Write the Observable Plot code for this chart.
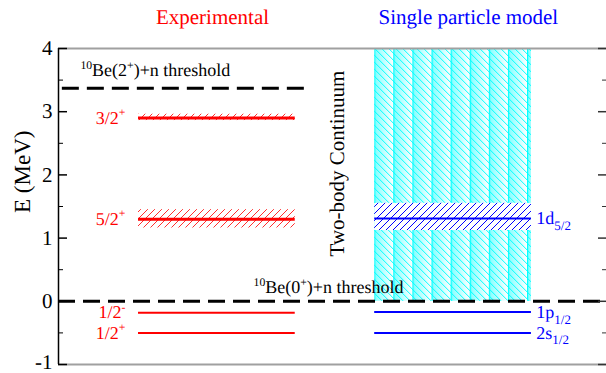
<!DOCTYPE html>
<html><head><meta charset="utf-8">
<script src="https://cdn.jsdelivr.net/npm/d3@7"></script>
<script src="https://cdn.jsdelivr.net/npm/@observablehq/plot@0.6"></script>
<style>
html,body{margin:0;padding:0;background:#fff}
svg{display:block; text-rendering: geometricPrecision;}
</style>
</head><body><div id="chart"></div>
<script>
// ---- data (MeV) ----
const expLabels   = ["3/2^{+}", "5/2^{+}", "1/2^{-}", "1/2^{+}"];
const expEnergies = [2.90, 1.30, -0.18, -0.50];
const expBandLo   = [2.86, 1.16];   // widths of the 3/2+ and 5/2+ resonances
const expBandHi   = [2.96, 1.45];

const spLabels    = ["1d_{5/2}", "1p_{1/2}", "2s_{1/2}"];
const spEnergies  = [1.31, -0.17, -0.50];
const spBandLo    = [1.12];
const spBandHi    = [1.55];

const continuumLo = [0];
const continuumHi = [4];

const thresholdLabels   = ["^{10}Be(2^{+})+n threshold", "^{10}Be(0^{+})+n threshold"];
const thresholdEnergies = [3.37, 0];

const yTicks      = [-1, 0, 1, 2, 3, 4];
const yMinorTicks = [-0.5, 0.5, 1.5, 2.5, 3.5];

const columnTitles = ["Experimental", "Single particle model"];

// ---- layout (x in abstract units 0..10) ----
const xExp = [1.46, 4.32];
const xSp  = [5.77, 8.63];
const RED = "#ff0000", BLUE = "#0000ff", CYAN = "#00ffff";
const FONT = "Liberation Serif";

const chart = Plot.plot({
  width: 606, height: 373,
  marginLeft: 58, marginRight: 0, marginTop: 48, marginBottom: 9,
  style: {background: "#fff", color: "#000", overflow: "visible"},
  x: {domain: [0, 10], axis: null},
  y: {domain: [-1, 4], axis: null},
  marks: [
    // two-body continuum
    Plot.rect(continuumLo, {x1: xSp[0], x2: xSp[1], y1: d => d, y2: (d, i) => continuumHi[i], fill: "url(#cyanStripes)"}),
    Plot.rect(continuumLo, {x1: xSp[0], x2: xSp[1], y1: d => d, y2: (d, i) => continuumHi[i], fill: "url(#cyanDiag)"}),
    // resonance widths
    Plot.rect(spBandLo, {x1: xSp[0], x2: xSp[1], y1: d => d, y2: (d, i) => spBandHi[i], fill: "#fff"}),
    Plot.rect(spBandLo, {x1: xSp[0], x2: xSp[1], y1: d => d, y2: (d, i) => spBandHi[i], fill: "url(#blueHatch)"}),
    Plot.rect(expBandLo, {x1: xExp[0], x2: xExp[1], y1: d => d, y2: (d, i) => expBandHi[i], fill: "url(#redHatch)"}),
    // levels
    Plot.ruleY(expEnergies, {x1: xExp[0], x2: xExp[1], stroke: RED, strokeWidth: (d, i) => i < expBandLo.length ? 3 : 2}),
    Plot.ruleY(spEnergies, {x1: xSp[0], x2: xSp[1], stroke: BLUE, strokeWidth: 2}),
    // thresholds
    Plot.ruleY([thresholdEnergies[0]], {x1: 0.07, x2: 4.62, stroke: "#000", strokeWidth: 3, strokeDasharray: "17,8"}),
    Plot.ruleY([thresholdEnergies[1]], {x1: 0, x2: 10, stroke: "#000", strokeWidth: 3, strokeDasharray: "17,8"}),
    // frame
    Plot.ruleY([4, -1], {x1: 0, x2: 10, stroke: "#a0a0a0", strokeWidth: 2}),
    Plot.ruleX([0], {y1: -1, y2: 4, stroke: "#000", strokeWidth: 1.5}),
    Plot.axisY({anchor: "left", ticks: yTicks, tickSize: -9, strokeWidth: 1.5, fill: "none", label: null}),
    Plot.axisY({anchor: "left", ticks: yMinorTicks, tickSize: -5, strokeWidth: 1, fill: "none", label: null}),
    Plot.axisY({anchor: "left", ticks: yTicks, tickSize: 0, tickPadding: 6, tickFormat: d => String(d), fontSize: 21, fontFamily: FONT, label: null}),
    Plot.axisY({anchor: "right", ticks: yTicks, tickSize: -9, strokeWidth: 1.5, stroke: "#333", fill: "none", label: null}),
    Plot.axisY({anchor: "right", ticks: yMinorTicks, tickSize: -5, strokeWidth: 1, stroke: "#333", fill: "none", label: null}),
    // texts
    Plot.text(["E (MeV)"], {x: -0.66, y: 2.05, rotate: -90, fontSize: 23, fontFamily: FONT, fill: "#000"}),
    Plot.text(columnTitles, {x: [2.81, 7.48], y: 4.49, fontSize: 21, fontFamily: FONT, fill: [RED, BLUE]}),
    Plot.text(expLabels, {x: 1.22, y: expEnergies, textAnchor: "end", fontSize: 18, fontFamily: FONT, fill: RED}),
    Plot.text(spLabels, {x: 8.72, y: spEnergies, textAnchor: "start", fontSize: 18, fontFamily: FONT, fill: BLUE}),
    Plot.text(thresholdLabels, {x: [0.40, 3.56], y: [3.65, 0.22], textAnchor: "start", fontSize: 18, fontFamily: FONT, fill: "#000"}),
    Plot.text(["Two-body Continuum"], {x: 5.09, y: 2.18, rotate: -90, fontSize: 21, fontFamily: FONT, fill: "#000"})
  ]
});
document.getElementById("chart").appendChild(chart);

// ---- fill patterns ----
const xs = chart.scale("x"), ys = chart.scale("y");
const ox = xs.apply(xSp[0]), oy = ys.apply(continuumHi[0]);
const svg = d3.select(chart);
const defs = svg.insert("defs", ":first-child");
const grad = defs.append("linearGradient").attr("id", "stripeGrad").attr("x1", 0).attr("x2", 1).attr("y1", 0).attr("y2", 0);
grad.append("stop").attr("offset", 0).attr("stop-color", CYAN).attr("stop-opacity", 0.5);
grad.append("stop").attr("offset", 1).attr("stop-color", CYAN).attr("stop-opacity", 0.0);
const ps = defs.append("pattern").attr("id", "cyanStripes").attr("patternUnits", "userSpaceOnUse")
  .attr("width", 19.1).attr("height", 20).attr("patternTransform", `translate(${ox},${oy})`);
ps.append("rect").attr("width", 19.1).attr("height", 20).attr("fill", "url(#stripeGrad)");
ps.append("rect").attr("width", 1.2).attr("height", 20).attr("fill", CYAN);
const pd = defs.append("pattern").attr("id", "cyanDiag").attr("patternUnits", "userSpaceOnUse")
  .attr("width", 7).attr("height", 7).attr("patternTransform", `translate(${ox},${oy})`);
pd.append("path").attr("d", "M0,0L7,7M-1,6L1,8M6,-1L8,1").attr("stroke", CYAN).attr("stroke-width", 1);
function hatch(id, color) {
  const p = defs.append("pattern").attr("id", id).attr("patternUnits", "userSpaceOnUse").attr("width", 7).attr("height", 7);
  p.append("path").attr("d", "M0,7L7,0M-1,1L1,-1M6,8L8,6").attr("stroke", color).attr("stroke-width", 1);
}
hatch("redHatch", "#ff3030");
hatch("blueHatch", BLUE);

// ---- fonts + superscripts / subscripts ----
svg.selectAll("text").each(function () {
  this.style.fontFamily = "'Liberation Serif', serif";
  this.style.fontVariant = "normal";
  const t = this.textContent;
  if (/^-1$/.test(t)) this.setAttribute("dy", "-0.1em");
  if (!/[\^_]\{/.test(t)) return;
  const fs = parseFloat(getComputedStyle(this).fontSize) || 17;
  this.textContent = "";
  const re = /([\^_])\{([^}]*)\}|([^\^_]+)/g;
  let m, cur = 0;
  while ((m = re.exec(t))) {
    const ts = document.createElementNS("http://www.w3.org/2000/svg", "tspan");
    let target = 0, size = null, s;
    if (m[1] === "^") { target = -0.42 * fs; size = 0.65 * fs; s = m[2]; }
    else if (m[1] === "_") { target = 0.32 * fs; size = 0.72 * fs; s = m[2]; }
    else { s = m[3]; }
    if (target !== cur) ts.setAttribute("dy", target - cur);
    cur = target;
    if (size) ts.setAttribute("font-size", size);
    ts.textContent = s;
    this.appendChild(ts);
  }
});
</script></body></html>
